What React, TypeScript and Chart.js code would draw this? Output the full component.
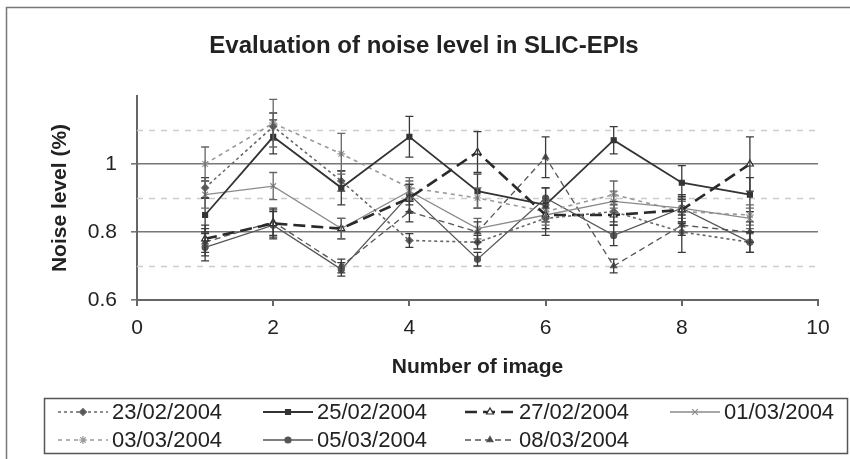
import React, { useEffect, useRef } from "react";
import { Chart, registerables } from "chart.js";
import { drawPoint } from "chart.js/helpers";

Chart.register(...registerables);

// ---------- data ----------
const imageNumbers = [1, 2, 3, 4, 5, 6, 7, 8, 9];
const seriesLabels = [
  "23/02/2004",
  "25/02/2004",
  "27/02/2004",
  "01/03/2004",
  "03/03/2004",
  "05/03/2004",
  "08/03/2004",
];
const s230204 = [0.93, 1.11, 0.95, 0.775, 0.77, 0.84, 0.86, 0.8, 0.77];
const s250204 = [0.85, 1.08, 0.93, 1.08, 0.92, 0.88, 1.07, 0.945, 0.91];
const s270204 = [0.78, 0.825, 0.81, 0.9, 1.035, 0.85, 0.85, 0.865, 1.0];
const s010304 = [0.91, 0.935, 0.81, 0.92, 0.81, 0.85, 0.89, 0.87, 0.84];
const s030304 = [1.0, 1.12, 1.03, 0.93, 0.9, 0.86, 0.91, 0.86, 0.85];
const s050304 = [0.755, 0.82, 0.69, 0.91, 0.72, 0.9, 0.79, 0.87, 0.77];
const s080304 = [0.77, 0.83, 0.7, 0.86, 0.8, 1.02, 0.7, 0.82, 0.8];

const e230204 = [0.03, 0.04, 0.03, 0.02, 0.02, 0.05, 0.03, 0.06, 0.03];
const e250204 = [0.05, 0.05, 0.05, 0.06, 0.05, 0.05, 0.04, 0.05, 0.05];
const e270204 = [0.04, 0.04, 0.03, 0.04, 0.06, 0.04, 0.03, 0.04, 0.08];
const e010304 = [0.04, 0.04, 0.03, 0.03, 0.03, 0.03, 0.03, 0.03, 0.03];
const e030304 = [0.05, 0.07, 0.06, 0.03, 0.03, 0.03, 0.04, 0.03, 0.03];
const e050304 = [0.04, 0.04, 0.02, 0.03, 0.02, 0.03, 0.03, 0.04, 0.03];
const e080304 = [0.04, 0.04, 0.02, 0.03, 0.03, 0.06, 0.02, 0.03, 0.03];

const seriesValues = [s230204, s250204, s270204, s010304, s030304, s050304, s080304];
const seriesErrors = [e230204, e250204, e270204, e010304, e030304, e050304, e080304];

const xTickStep = 2;
const yMin = 0.6;
const yMax = 1.2;
const yTickStep = 0.2;
const minorGridValues = [0.7, 0.9, 1.1];

const titleText = "Evaluation of noise level in SLIC-EPIs";
const xTitle = "Number of image";
const yTitle = "Noise level (%)";

// ---------- styles ----------
const FONT = "'Liberation Sans', Arial, sans-serif";
const styles = [
  { color: "#666", width: 1.6, dash: [3, 3], point: "rectRot", radius: 3.5, fill: "#555" },
  { color: "#333", width: 1.8, dash: [], point: "rect", radius: 3.5, fill: "#333" },
  { color: "#2a2a2a", width: 2.6, dash: [12, 6], point: "triangle", radius: 4, fill: "#ffffff" },
  { color: "#8a8a8a", width: 1.3, dash: [], point: "crossRot", radius: 4, fill: "#8a8a8a" },
  { color: "#999", width: 1.6, dash: [4, 4], point: "star", radius: 4, fill: "#999" },
  { color: "#555", width: 1.3, dash: [], point: "circle", radius: 3, fill: "#555" },
  { color: "#555", width: 1.3, dash: [6, 4], point: "triangle", radius: 3.5, fill: "#444" },
];

const datasets = seriesLabels.map((label, i) => ({
  label,
  data: imageNumbers.map((x, j) => ({ x, y: seriesValues[i][j] })),
  errors: seriesErrors[i],
  borderColor: styles[i].color,
  borderWidth: styles[i].width,
  borderDash: styles[i].dash,
  pointStyle: styles[i].point,
  pointRadius: styles[i].radius,
  pointBackgroundColor: styles[i].fill,
  pointBorderColor: styles[i].color,
  pointBorderWidth: 1.2,
  fill: false,
  tension: 0,
}));

const bgPlugin = {
  id: "bg",
  beforeDraw(chart: any) {
    const { ctx, width, height } = chart;
    ctx.save();
    ctx.fillStyle = "#ffffff";
    ctx.fillRect(0, 0, width, height);
    ctx.restore();
  },
  afterDraw(chart: any) {
    const { ctx, width, height } = chart;
    ctx.save();
    ctx.strokeStyle = "#777";
    ctx.lineWidth = 1.5;
    ctx.beginPath();
    ctx.moveTo(6.5, height);
    ctx.lineTo(6.5, 7.5);
    ctx.lineTo(width, 7.5);
    ctx.stroke();
    ctx.restore();
  },
};

const minorGridPlugin = {
  id: "minorGrid",
  beforeDatasetsDraw(chart: any) {
    const { ctx, chartArea } = chart;
    const y = chart.scales.y;
    ctx.save();
    ctx.strokeStyle = "#cccccc";
    ctx.lineWidth = 1.5;
    ctx.setLineDash([6, 6]);
    minorGridValues.forEach((v) => {
      const py = Math.round(y.getPixelForValue(v)) + 0.5;
      ctx.beginPath();
      ctx.moveTo(chartArea.left, py);
      ctx.lineTo(chartArea.right, py);
      ctx.stroke();
    });
    ctx.restore();
  },
};

const errorBarPlugin = {
  id: "errorBars",
  afterDatasetsDraw(chart: any) {
    const { ctx } = chart;
    const xs = chart.scales.x;
    const ys = chart.scales.y;
    ctx.save();
    ctx.setLineDash([]);
    chart.data.datasets.forEach((ds: any) => {
      ctx.strokeStyle = ds.borderColor === "#8a8a8a" || ds.borderColor === "#999" ? "#666" : "#3a3a3a";
      ctx.lineWidth = 1.3;
      ds.data.forEach((pt: any, j: number) => {
        const e = ds.errors[j];
        const px = xs.getPixelForValue(pt.x);
        const top = ys.getPixelForValue(pt.y + e);
        const bot = ys.getPixelForValue(pt.y - e);
        ctx.beginPath();
        ctx.moveTo(px, top);
        ctx.lineTo(px, bot);
        ctx.moveTo(px - 4, top);
        ctx.lineTo(px + 4, top);
        ctx.moveTo(px - 4, bot);
        ctx.lineTo(px + 4, bot);
        ctx.stroke();
      });
    });
    ctx.restore();
  },
};

const legendBox = { left: 44, top: 398, right: 847, bottom: 453 };
const legendCols = [58, 263, 465, 670];
const legendRows = [412, 440];
const legendLineLen = 50;

const legendPlugin = {
  id: "customLegend",
  afterDraw(chart: any) {
    const { ctx } = chart;
    ctx.save();
    ctx.strokeStyle = "#555";
    ctx.lineWidth = 1.5;
    ctx.setLineDash([]);
    ctx.strokeRect(
      legendBox.left + 0.5,
      legendBox.top + 0.5,
      legendBox.right - legendBox.left,
      legendBox.bottom - legendBox.top
    );
    chart.data.datasets.forEach((ds: any, i: number) => {
      const col = i % 4;
      const row = Math.floor(i / 4);
      const x0 = legendCols[col];
      const y0 = legendRows[row];
      ctx.save();
      ctx.strokeStyle = ds.borderColor;
      ctx.lineWidth = ds.borderWidth;
      ctx.setLineDash(ds.borderDash || []);
      ctx.beginPath();
      ctx.moveTo(x0, y0);
      ctx.lineTo(x0 + legendLineLen, y0);
      ctx.stroke();
      ctx.setLineDash([]);
      ctx.fillStyle = ds.pointBackgroundColor;
      ctx.strokeStyle = ds.pointBorderColor;
      ctx.lineWidth = ds.pointBorderWidth;
      drawPoint(
        ctx,
        { pointStyle: ds.pointStyle, rotation: 0, radius: ds.pointRadius, borderWidth: ds.pointBorderWidth },
        x0 + legendLineLen / 2,
        y0
      );
      ctx.restore();
      ctx.fillStyle = "#222";
      ctx.font = `22px ${FONT}`;
      ctx.textBaseline = "middle";
      ctx.textAlign = "left";
      ctx.fillText(ds.label, x0 + legendLineLen + 4, y0 + 1);
    });
    ctx.restore();
  },
};

export default function App() {
  const ref = useRef<HTMLCanvasElement>(null);
  useEffect(() => {
    const chart = new Chart(ref.current as HTMLCanvasElement, {
      type: "line",
      data: { datasets: datasets as any },
      plugins: [bgPlugin, minorGridPlugin, errorBarPlugin, legendPlugin],
      options: {
        animation: false,
        responsive: false,
        devicePixelRatio: 1,
        layout: { padding: { left: 30, right: 32, top: 0, bottom: 0 } },
        plugins: {
          legend: { display: false },
          tooltip: { enabled: false },
          title: {
            display: true,
            text: titleText,
            color: "#222",
            font: { family: FONT, size: 24, weight: "bold" },
            padding: { top: 32, bottom: 35.2 },
          },
        },
        scales: {
          x: {
            type: "linear",
            min: 0,
            max: 10,
            ticks: {
              stepSize: xTickStep,
              color: "#222",
              font: { family: FONT, size: 21 },
              padding: 10,
            },
            grid: { drawOnChartArea: false, drawTicks: true, tickLength: 6, color: "#666", lineWidth: 2 },
            border: { display: true, color: "#666", width: 2 },
            title: {
              display: true,
              text: xTitle,
              color: "#222",
              font: { family: FONT, size: 21, weight: "bold" },
              padding: { top: 0, bottom: 79.4 },
            },
            afterFit(scale: any) {
              scale.height = 159;
            },
          },
          y: {
            type: "linear",
            min: yMin,
            max: yMax,
            ticks: {
              stepSize: yTickStep,
              color: "#222",
              font: { family: FONT, size: 21 },
              padding: 14,
              callback: (v: any) => {
                const n = Number(v);
                if (Math.abs(n - yMax) < 1e-6) return null;
                return String(Number(n.toFixed(1)));
              },
            },
            grid: { color: "#777", lineWidth: 1.6, drawTicks: true, tickLength: 6 },
            border: { display: true, color: "#666", width: 2 },
            title: {
              display: true,
              text: yTitle,
              color: "#222",
              font: { family: FONT, size: 21, weight: "bold" },
              padding: { top: 17.4, bottom: 0 },
            },
            afterFit(scale: any) {
              scale.width = 107;
            },
          },
        },
      } as any,
    });
    return () => chart.destroy();
  }, []);
  return (
    <div style={{ position: "fixed", left: 0, top: 0, width: 850, height: 459, background: "#fff" }}>
      <canvas ref={ref} width={850} height={459} style={{ display: "block", width: 850, height: 459 }} />
    </div>
  );
}
